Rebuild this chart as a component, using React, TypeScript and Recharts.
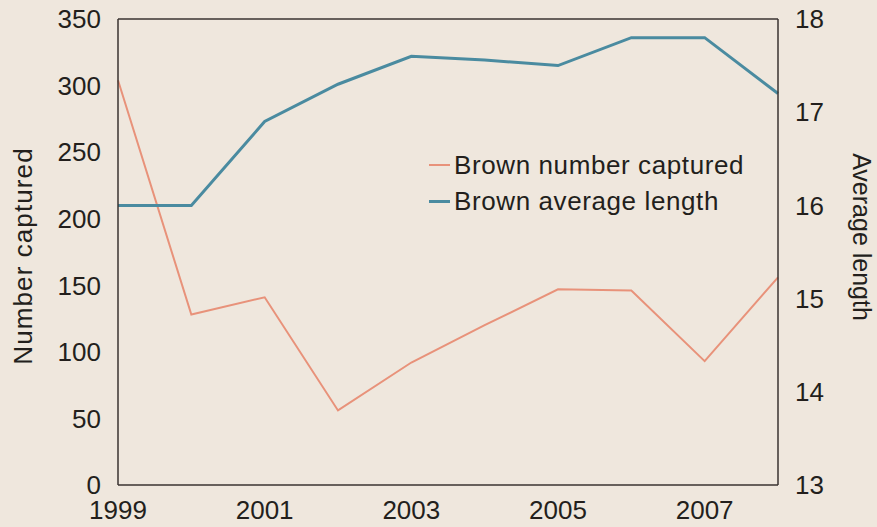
import {
  LineChart,
  Line,
  XAxis,
  YAxis,
  Legend,
  ReferenceLine,
} from "recharts";

const years = [1999, 2000, 2001, 2002, 2003, 2004, 2005, 2006, 2007, 2008];
const numberCaptured = [304, 128, 141, 56, 92, 120, 147, 146, 93, 156];
const averageLength = [16.0, 16.0, 16.9, 17.3, 17.6, 17.56, 17.5, 17.8, 17.8, 17.2];
const xTicks = [1999, 2001, 2003, 2005, 2007];
const leftTicks = [0, 50, 100, 150, 200, 250, 300, 350];
const rightTicks = [13, 14, 15, 16, 17, 18];

const data = years.map((year, i) => ({
  year,
  captured: numberCaptured[i],
  length: averageLength[i],
}));

const BG = "#efe7dd";
const INK = "#231f1c";
const AXIS = "#3a3330";
const ORANGE = "#e8927a";
const BLUE = "#4a8ba0";
const FONT = "Arial, 'Liberation Sans', sans-serif";

const tickStyle = { fill: INK, fontSize: 26, fontFamily: FONT };

function LegendBox() {
  const rows = [
    { label: "Brown number captured", color: ORANGE, w: 2 },
    { label: "Brown average length", color: BLUE, w: 3 },
  ];
  return (
    <div style={{ fontFamily: FONT }}>
      {rows.map((r) => (
        <div key={r.label} style={{ display: "flex", alignItems: "center", height: 36 }}>
          <span style={{ display: "inline-block", width: 21, height: r.w, background: r.color, marginRight: 4 }} />
          <span style={{ fontSize: 26, color: INK, letterSpacing: 0.6, whiteSpace: "nowrap" }}>{r.label}</span>
        </div>
      ))}
    </div>
  );
}

export default function App() {
  return (
    <div style={{ position: "absolute", left: 0, top: 0, width: 877, height: 527, background: BG }}>
      <LineChart width={877} height={527} data={data} margin={{ top: 19, right: 0, bottom: 0, left: 0 }}>
        <XAxis
          dataKey="year"
          type="number"
          domain={[1999, 2008]}
          ticks={xTicks}
          height={42}
          tickLine={false}
          tickSize={0}
          tickMargin={16}
          axisLine={{ stroke: AXIS, strokeWidth: 1.5 }}
          tick={tickStyle}
        />
        <YAxis
          yAxisId="left"
          domain={[0, 350]}
          ticks={leftTicks}
          width={118}
          tickLine={false}
          tickSize={0}
          tickMargin={17}
          axisLine={{ stroke: AXIS, strokeWidth: 1.5 }}
          tick={tickStyle}
          label={{
            content: ({ viewBox }: any) => {
              const x = viewBox.x + 23;
              const y = viewBox.y + viewBox.height / 2 + 4;
              return (
                <text
                  x={x}
                  y={y}
                  transform={`rotate(-90 ${x} ${y})`}
                  textAnchor="middle"
                  dominantBaseline="central"
                  fill={INK}
                  fontSize={26}
                  fontFamily={FONT}
                  letterSpacing={1.1}
                >
                  Number captured
                </text>
              );
            },
          }}
        />
        <YAxis
          yAxisId="right"
          orientation="right"
          domain={[13, 18]}
          ticks={rightTicks}
          width={99}
          tickLine={false}
          tickSize={0}
          tickMargin={17}
          axisLine={{ stroke: AXIS, strokeWidth: 1.5 }}
          tick={tickStyle}
          label={{
            content: ({ viewBox }: any) => {
              const x = viewBox.x + 84;
              const y = viewBox.y + viewBox.height / 2 - 15;
              return (
                <text
                  x={x}
                  y={y}
                  transform={`rotate(90 ${x} ${y})`}
                  textAnchor="middle"
                  dominantBaseline="central"
                  fill={INK}
                  fontSize={25}
                  fontFamily={FONT}
                >
                  Average length
                </text>
              );
            },
          }}
        />
        <ReferenceLine yAxisId="left" y={350} stroke={AXIS} strokeWidth={1.5} />
        <Legend
          layout="vertical"
          align="center"
          verticalAlign="middle"
          wrapperStyle={{ left: 429, top: 147, width: 340 }}
          content={() => <LegendBox />}
        />
        <Line
          yAxisId="left"
          type="linear"
          dataKey="captured"
          name="Brown number captured"
          stroke={ORANGE}
          strokeWidth={2}
          dot={false}
          isAnimationActive={false}
        />
        <Line
          yAxisId="right"
          type="linear"
          dataKey="length"
          name="Brown average length"
          stroke={BLUE}
          strokeWidth={3}
          dot={false}
          isAnimationActive={false}
        />
      </LineChart>
    </div>
  );
}
